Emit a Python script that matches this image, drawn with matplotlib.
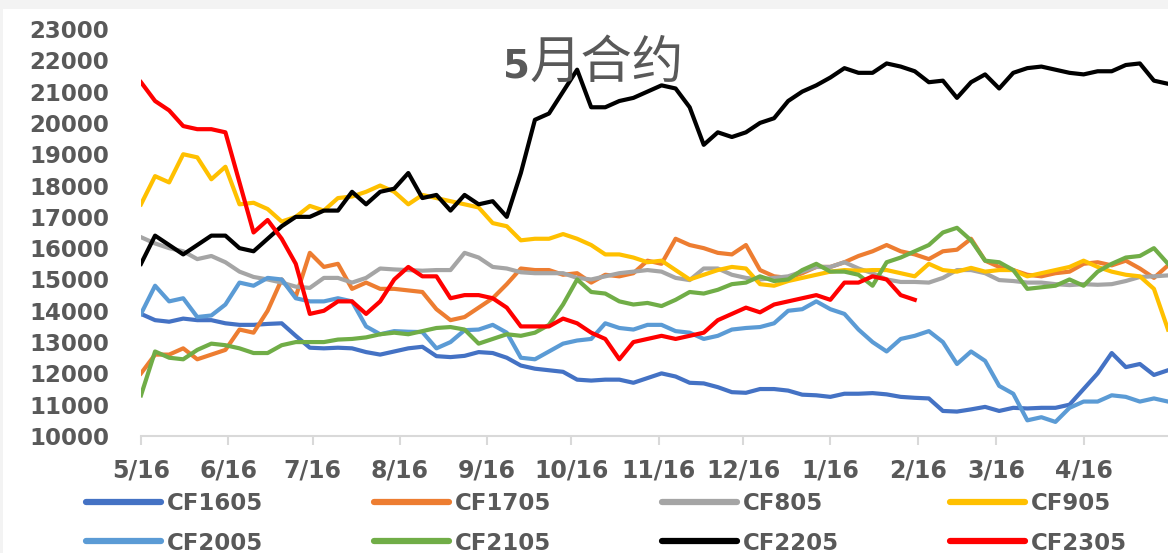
import matplotlib
matplotlib.use('Agg')
import matplotlib.pyplot as plt
from matplotlib.patches import Rectangle
import numpy as np

# days counted from 5/16, one value every 5 days
days = np.arange(0, 366, 5)

cf1605 = [13900, 13700, 13650, 13750, 13700, 13700, 13600, 13550, 13550, 13580,
          13600, 13200, 12820, 12800, 12820, 12800, 12680, 12600, 12700, 12800,
          12850, 12550, 12520, 12560, 12680, 12650, 12500, 12250, 12150, 12100,
          12050, 11800, 11770, 11800, 11800, 11700, 11850, 12000, 11900, 11700,
          11680, 11560, 11400, 11380, 11500, 11500, 11450, 11320, 11300, 11250,
          11350, 11350, 11370, 11330, 11250, 11220, 11200, 10800, 10780, 10850,
          10930, 10800, 10900, 10880, 10900, 10900, 11000, 11500, 12000, 12650,
          12200, 12300, 11950, 12100]
cf1705 = [12000, 12600, 12600, 12800, 12450, 12600, 12750, 13400, 13300, 14000,
          15000, 14450, 15850, 15400, 15500, 14700, 14900, 14700, 14700, 14650,
          14600, 14050, 13700, 13800, 14100, 14400, 14850, 15350, 15300, 15300,
          15150, 15200, 14900, 15150, 15100, 15200, 15600, 15500, 16300, 16100,
          16000, 15850, 15800, 16100, 15300, 15100, 15050, 15200, 15400, 15400,
          15550, 15750, 15900, 16100, 15900, 15800, 15650, 15900, 15950, 16300,
          15600, 15400, 15300, 15150, 15100, 15200, 15250, 15500, 15550, 15450,
          15600, 15350, 15050, 15450]
cf805 = [16350, 16150, 16000, 15900, 15650, 15750, 15550, 15250, 15080, 15000,
         14900, 14770, 14730, 15050, 15050, 14900, 15050, 15350, 15320, 15300,
         15280, 15300, 15300, 15850, 15700, 15400, 15350, 15230, 15200, 15200,
         15200, 15050, 15000, 15100, 15200, 15250, 15300, 15250, 15050, 14980,
         15350, 15350, 15150, 15050, 15000, 15050, 15100, 15250, 15400, 15400,
         15550, 15350, 15200, 15000, 14920, 14920, 14900, 15050, 15300, 15300,
         15200, 14980, 14950, 14900, 14900, 14850, 14820, 14850, 14830, 14850,
         14950, 15080, 15100, 15130]
cf905 = [17400, 18300, 18100, 19000, 18900, 18200, 18600, 17400, 17450, 17250,
         16850, 17000, 17350, 17200, 17600, 17650, 17800, 18000, 17800, 17400,
         17700, 17600, 17500, 17400, 17300, 16800, 16700, 16250, 16300, 16300,
         16450, 16300, 16100, 15800, 15800, 15700, 15550, 15600, 15300, 15000,
         15150, 15300, 15400, 15350, 14850, 14800, 14950, 15050, 15150, 15250,
         15300, 15280, 15300, 15300, 15200, 15100, 15500, 15300, 15250, 15370,
         15250, 15300, 15300, 15100, 15200, 15300, 15400, 15600, 15400, 15250,
         15150, 15100, 14700, 13400]
cf2005 = [13900, 14800, 14300, 14400, 13800, 13850, 14200, 14900, 14800, 15050,
          15000, 14400, 14300, 14300, 14400, 14300, 13500, 13250, 13350, 13330,
          13320, 12800, 13000, 13380, 13400, 13550, 13300, 12500, 12450, 12700,
          12950, 13050, 13100, 13600, 13450, 13400, 13550, 13550, 13350, 13300,
          13100, 13200, 13400, 13450, 13480, 13600, 14000, 14050, 14300, 14050,
          13900, 13400, 13000, 12700, 13100, 13200, 13350, 13000, 12300, 12700,
          12400, 11600, 11350, 10500, 10600, 10450, 10900, 11100, 11100, 11300,
          11250, 11100, 11200, 11100]
cf2105 = [11300, 12700, 12500, 12450, 12750, 12950, 12900, 12800, 12650, 12650,
          12900, 13000, 13000, 13000, 13080, 13100, 13150, 13250, 13300, 13250,
          13350, 13450, 13480, 13400, 12950, 13100, 13250, 13200, 13300, 13550,
          14200, 15000, 14600, 14550, 14300, 14200, 14250, 14150, 14350, 14600,
          14550, 14670, 14850, 14900, 15100, 14950, 15000, 15300, 15500, 15250,
          15250, 15150, 14800, 15550, 15700, 15900, 16100, 16500, 16650, 16250,
          15600, 15550, 15300, 14700, 14750, 14800, 15000, 14800, 15250, 15500,
          15700, 15750, 16000, 15500]
cf2205 = [15500, 16400, 16100, 15800, 16100, 16400, 16400, 16000, 15900, 16300,
          16700, 17000, 17000, 17200, 17200, 17800, 17400, 17800, 17900, 18400,
          17600, 17700, 17200, 17700, 17400, 17500, 17000, 18400, 20100, 20300,
          21000, 21700, 20500, 20500, 20700, 20800, 21000, 21200, 21100, 20500,
          19300, 19700, 19550, 19700, 20000, 20150, 20700, 21000, 21200, 21450,
          21750, 21600, 21600, 21900, 21800, 21650, 21300, 21350, 20800, 21300,
          21550, 21100, 21600, 21750, 21800, 21700, 21600, 21550, 21650, 21650,
          21850, 21900, 21350, 21250]
cf2305 = [21300, 20700, 20400, 19900, 19800, 19800, 19700, 18100, 16500, 16900,
          16300, 15500, 13900, 14000, 14300, 14300, 13900, 14300, 15000, 15400,
          15100, 15100, 14400, 14500, 14500, 14400, 14100, 13500, 13500, 13500,
          13750, 13600, 13300, 13100, 12450, 13000, 13100, 13200, 13100, 13200,
          13300, 13700, 13900, 14100, 13950, 14200, 14300, 14400, 14500, 14350,
          14900, 14900, 15100, 15000, 14500, 14350]

names = ['CF1605', 'CF1705', 'CF805', 'CF905', 'CF2005', 'CF2105', 'CF2205', 'CF2305']
series = [cf1605, cf1705, cf805, cf905, cf2005, cf2105, cf2205, cf2305]
colors = ['#4472C4', '#ED7D31', '#A5A5A5', '#FFC000', '#5B9BD5', '#70AD47', '#000000', '#FF0000']

tick_days = [0, 31, 61, 92, 123, 153, 184, 214, 245, 276, 304, 335]
tick_labels = ['5/16', '6/16', '7/16', '8/16', '9/16', '10/16', '11/16', '12/16',
               '1/16', '2/16', '3/16', '4/16']

txt = '#595959'
font = ['DejaVu Sans']

fig = plt.figure(figsize=(11.68, 5.53), dpi=100)
fig.patch.set_facecolor('#f3f3f3')
fig.add_artist(Rectangle((3 / 1168, 0), 1, 1 - 9 / 553, transform=fig.transFigure,
                         facecolor='white', edgecolor='none', zorder=-10))

ax = fig.add_axes([141 / 1168, 1 - 436 / 553, 1 - 141 / 1168, (436 - 29) / 553])
ax.set_facecolor('none')

handles = []
for name, vals, c in zip(names, series, colors):
    h, = ax.plot(days[:len(vals)], vals, color=c, lw=3, label=name, solid_joinstyle='round')
    handles.append(h)

ax.set_xlim(0, 365)
ax.set_ylim(10000, 23000)
ax.set_yticks(np.arange(10000, 23001, 1000))
ax.set_xticks(tick_days)
ax.set_xticklabels(tick_labels)

for s in ['top', 'right', 'left']:
    ax.spines[s].set_visible(False)
ax.spines['bottom'].set_color('#d9d9d9')
ax.spines['bottom'].set_linewidth(1.5)
ax.tick_params(axis='y', length=0, pad=23)
ax.tick_params(axis='x', length=6.5, width=1.5, color='#d9d9d9', pad=10)
for lab in ax.get_yticklabels():
    lab.set_fontsize(16.5)
for lab in ax.get_xticklabels():
    lab.set_fontsize(17)
for lab in ax.get_xticklabels() + ax.get_yticklabels():
    lab.set_fontweight('bold')
    lab.set_color(txt)
    lab.set_family(font)

# title: bold digit, regular CJK
fig.text(530 / 1168, 1 - 78 / 553, '5', ha='right', va='baseline', fontsize=28,
         color=txt, fontweight='bold', family=font)
fig.text(530 / 1168, 1 - 78 / 553, '月合约', ha='left', va='baseline', fontsize=37,
         color=txt, family=['Noto Sans CJK SC', 'DejaVu Sans'])

# legend filled row by row: reorder for matplotlib's column-wise fill
order = [0, 4, 1, 5, 2, 6, 3, 7]
leg = fig.legend([handles[i] for i in order], [names[i] for i in order], ncol=4,
                 loc='upper left', bbox_to_anchor=(86 / 1168, 1 - 492 / 553),
                 frameon=False, borderpad=0, borderaxespad=0,
                 handlelength=3.26, handletextpad=0.26, columnspacing=4.85,
                 labelspacing=0.72, prop={'family': font, 'size': 16.5, 'weight': 'bold'})
for t in leg.get_texts():
    t.set_color(txt)
for l in leg.get_lines():
    l.set_linewidth(4.5)
    l.set_solid_capstyle('round')

fig.savefig('out.png', dpi=100, facecolor=fig.get_facecolor())
